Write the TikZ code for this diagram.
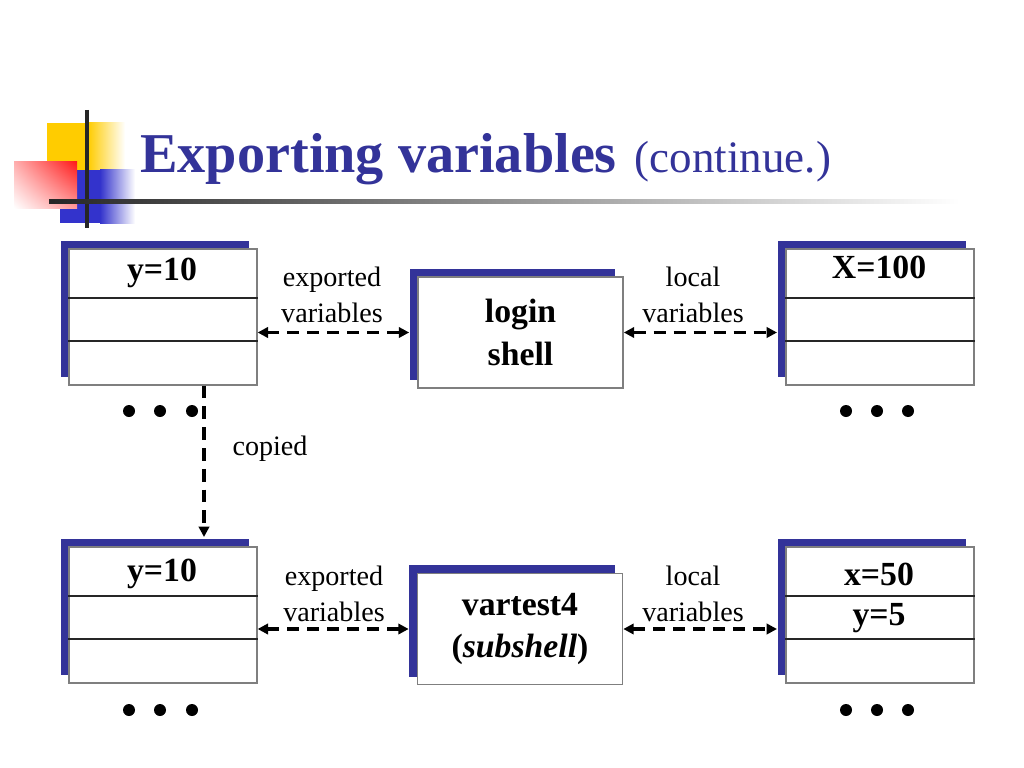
\documentclass[tikz,border=0pt]{standalone}
\usepackage{fontspec}
\setmainfont{Liberation Serif}
\usetikzlibrary{arrows.meta,positioning,calc,shadows,shadings}
\definecolor{slideblue}{HTML}{333399}
\definecolor{shadeblue}{HTML}{333399}
\definecolor{squareblue}{HTML}{3333CC}
\definecolor{squareyellow}{HTML}{FFCC00}
\definecolor{squarered}{HTML}{FF1A1A}
\definecolor{edgegray}{HTML}{7F7F7F}

\tikzset{
  stackbox/.style={draw=edgegray, line width=0.04cm, fill=white, minimum width=4.7cm, minimum height=3.4cm, inner sep=0pt, anchor=north west, general shadow={fill=shadeblue, shadow xshift=-0.2cm, shadow yshift=0.2cm}},
  procbox/.style={draw=edgegray, line width=0.04cm, fill=white, minimum width=5.125cm, minimum height=2.775cm, inner sep=0pt, align=center, font=\bfseries\fontsize{24}{30}\selectfont, general shadow={fill=shadeblue, shadow xshift=-0.2cm, shadow yshift=0.2cm}},
  rowline/.style={line width=0.035cm, black!85},
  valtext/.style={font=\bfseries\fontsize{24}{29}\selectfont, anchor=base, inner sep=0pt},
  labeltext/.style={font=\fontsize{20}{25}\selectfont, align=center, anchor=base, inner sep=0pt},
  linkarrow/.style={line width=0.09cm, dash pattern=on 0.3cm off 0.2cm, shorten >=0.2cm, {Triangle[length=0.26cm,width=0.26cm]}-{Triangle[length=0.26cm,width=0.26cm]}},
  copyarrow/.style={line width=0.09cm, dash pattern=on 0.32cm off 0.2cm, -{Triangle[length=0.26cm,width=0.26cm]}}
}

\begin{document}
\begin{tikzpicture}[x=0.025cm, y=-0.025cm]
\useasboundingbox (0,0) rectangle (1024,768);

\fill[squareyellow] (47,123) rectangle (88,170);
\shade[left color=squareyellow, right color=white] (88,123) rectangle (125,170);
\fill[squareblue] (60,170) rectangle (100,223);
\shade[left color=squareblue, right color=white] (100,170) rectangle (135,223);
\shade[upper left=squarered!35, upper right=squarered, lower left=white, lower right=squarered!45] (14,162) rectangle (77,208);
\draw[line width=0.1cm, black!85] (87,110) -- (87,228);
\shade[left color=black!85, right color=white] (49,199) rectangle (960,203);

\node[anchor=base west, inner sep=0pt, text=slideblue] (title) at (140,173) {{\bfseries\fontsize{40}{48}\selectfont Exporting variables}\hspace{0.45cm}{\fontsize{32}{38}\selectfont(continue.)}};

\node[stackbox] (tlbox) at (68,248) {};
\draw[rowline] ([yshift=-1.25cm]tlbox.north west) -- ([yshift=-1.25cm]tlbox.north east);
\draw[rowline] ([yshift=-2.325cm]tlbox.north west) -- ([yshift=-2.325cm]tlbox.north east);
\node[valtext] (tlval) at (162,280) {y=10};

\node[stackbox] (trbox) at (785,248) {};
\draw[rowline] ([yshift=-1.25cm]trbox.north west) -- ([yshift=-1.25cm]trbox.north east);
\draw[rowline] ([yshift=-2.325cm]trbox.north west) -- ([yshift=-2.325cm]trbox.north east);
\node[valtext] (trval) at (879,278) {X=100};

\node[stackbox] (blbox) at (68,546) {};
\draw[rowline] ([yshift=-1.25cm]blbox.north west) -- ([yshift=-1.25cm]blbox.north east);
\draw[rowline] ([yshift=-2.325cm]blbox.north west) -- ([yshift=-2.325cm]blbox.north east);
\node[valtext] (blval) at (162,581) {y=10};

\node[stackbox] (brbox) at (785,546) {};
\draw[rowline] ([yshift=-1.25cm]brbox.north west) -- ([yshift=-1.25cm]brbox.north east);
\draw[rowline] ([yshift=-2.325cm]brbox.north west) -- ([yshift=-2.325cm]brbox.north east);
\node[valtext] (brvalx) at (879,585) {x=50};
\node[valtext] (brvaly) at (879,625) {y=5};

\node[procbox] (login) at (520.5,332.5) {login\\shell};
\node[procbox] (vartest) at (520,629) {vartest4\\(\textit{subshell})};

\node[labeltext] (explabtop) at (332,322) {exported\\variables};
\node[labeltext] (loclabtop) at (693,322) {local\\variables};
\node[labeltext] (explabbot) at (334,621) {exported\\variables};
\node[labeltext] (loclabbot) at (693,621) {local\\variables};

\draw[linkarrow] (tlbox.east |- login.west) -- (login.west);
\draw[linkarrow] (login.east) -- (login.east -| trbox.west);
\draw[linkarrow] (blbox.east |- vartest.west) -- (vartest.west);
\draw[linkarrow] (vartest.east) -- (vartest.east -| brbox.west);

\coordinate (copyend) at (204,537);
\draw[copyarrow] (tlbox.south west -| copyend) -- (copyend);
\node[font=\fontsize{20}{25}\selectfont] (copylab) at (270,449) {copied};

\foreach \x in {129,160,192} {
  \fill (\x,411) circle (0.15cm);
  \fill (\x,710) circle (0.15cm);
}
\foreach \x in {846,877,908} {
  \fill (\x,411) circle (0.15cm);
  \fill (\x,710) circle (0.15cm);
}
\end{tikzpicture}
\end{document}
